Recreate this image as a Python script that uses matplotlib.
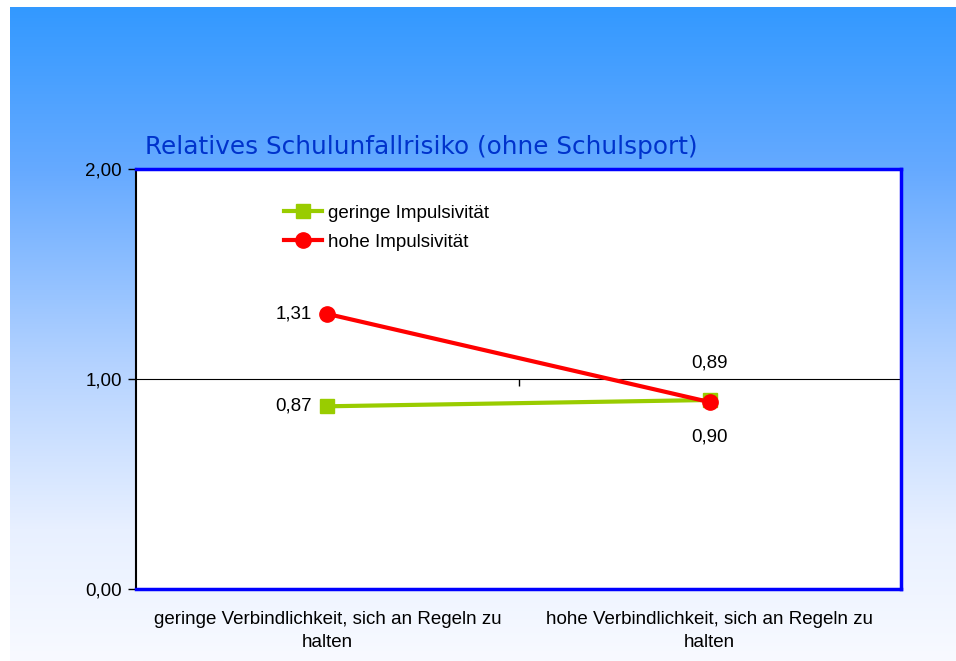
import numpy as np
import matplotlib
matplotlib.use("Agg")
import matplotlib.pyplot as plt
from matplotlib.colors import LinearSegmentedColormap

plt.rcParams['font.family'] = ['Liberation Sans', 'DejaVu Sans']

categories = ["geringe Verbindlichkeit, sich an Regeln zu\nhalten",
              "hohe Verbindlichkeit, sich an Regeln zu\nhalten"]
series_names = ["geringe Impulsivität", "hohe Impulsivität"]
geringe = [0.87, 0.90]
hohe = [1.31, 0.89]
yticks = [0.0, 1.0, 2.0]
ytick_labels = ["0,00", "1,00", "2,00"]
title = "Relatives Schulunfallrisiko (ohne Schulsport)"

W, H = 956, 661
fig = plt.figure(figsize=(W / 100, H / 100), dpi=100, facecolor="white")

# gradient background
bg = fig.add_axes([10 / W, 0, 1 - 10 / W, (H - 7) / H], zorder=0)
cmap = LinearSegmentedColormap.from_list(
    "bg", [(0.0, "#3399ff"), (0.25, "#66aaff"), (0.55, "#b5d3ff"), (0.8, "#e8f0ff"), (1.0, "#f8faff")])
grad = np.linspace(0, 1, 256).reshape(-1, 1)
bg.imshow(grad, aspect="auto", cmap=cmap, extent=[0, 1, 0, 1], origin="upper")
bg.axis("off")

ax = fig.add_axes([136 / W, (H - 589) / H, (901 - 136) / W, (589 - 169) / H], zorder=2)
ax.set_facecolor("white")
x = np.arange(len(categories))
ax.set_xlim(-0.5, 1.5)
ax.set_ylim(0, 2)

green = "#99cc00"
red = "#ff0000"
ax.plot(x, geringe, color=green, lw=3, marker="s", ms=10, mec=green, mfc=green,
        label=series_names[0], zorder=3)
ax.plot(x, hohe, color=red, lw=3, marker="o", ms=11, mec=red, mfc=red,
        label=series_names[1], zorder=4)

fs = 13.5
# data labels
ax.annotate(f"{geringe[0]:.2f}".replace(".", ","), (x[0], geringe[0]), xytext=(-11, 0),
            textcoords="offset points", ha="right", va="center", fontsize=fs)
ax.annotate(f"{hohe[0]:.2f}".replace(".", ","), (x[0], hohe[0]), xytext=(-11, 0),
            textcoords="offset points", ha="right", va="center", fontsize=fs)
ax.annotate(f"{hohe[1]:.2f}".replace(".", ","), (x[1], hohe[1]), xytext=(0, 28),
            textcoords="offset points", ha="center", va="center", fontsize=fs)
ax.annotate(f"{geringe[1]:.2f}".replace(".", ","), (x[1], geringe[1]), xytext=(0, -27),
            textcoords="offset points", ha="center", va="center", fontsize=fs)

# axes styling
ax.set_yticks(yticks)
ax.set_yticklabels(ytick_labels, fontsize=fs)
ax.tick_params(axis="y", direction="out", length=6, width=1, color="black", pad=4)
ax.set_xticks(x)
ax.set_xticklabels(categories, fontsize=13.5, linespacing=1.45)
ax.tick_params(axis="x", length=0, pad=16)
for s in ["top", "right", "bottom"]:
    ax.spines[s].set_color("#0000ff")
    ax.spines[s].set_linewidth(2.5)
ax.spines["left"].set_color("black")
ax.spines["left"].set_linewidth(1.5)

# category axis crossing at 1
sec = ax.secondary_xaxis(0.5)
sec.set_xticks([0.5])
sec.set_xticklabels([""])
sec.tick_params(axis="x", direction="in", length=5, width=1, color="black")
sec.spines["bottom"].set_color("black")
sec.spines["bottom"].set_linewidth(1)

leg = ax.legend(loc="upper left", bbox_to_anchor=(0.172, 0.955), frameon=False,
                fontsize=fs, handlelength=2.0, handletextpad=0.3, labelspacing=0.62)

fig.text(145 / W, (H - 147) / H, title, fontsize=17.8, color="#0033cc",
         ha="left", va="center", family=["DejaVu Sans"])

fig.savefig("out.png", dpi=100)
